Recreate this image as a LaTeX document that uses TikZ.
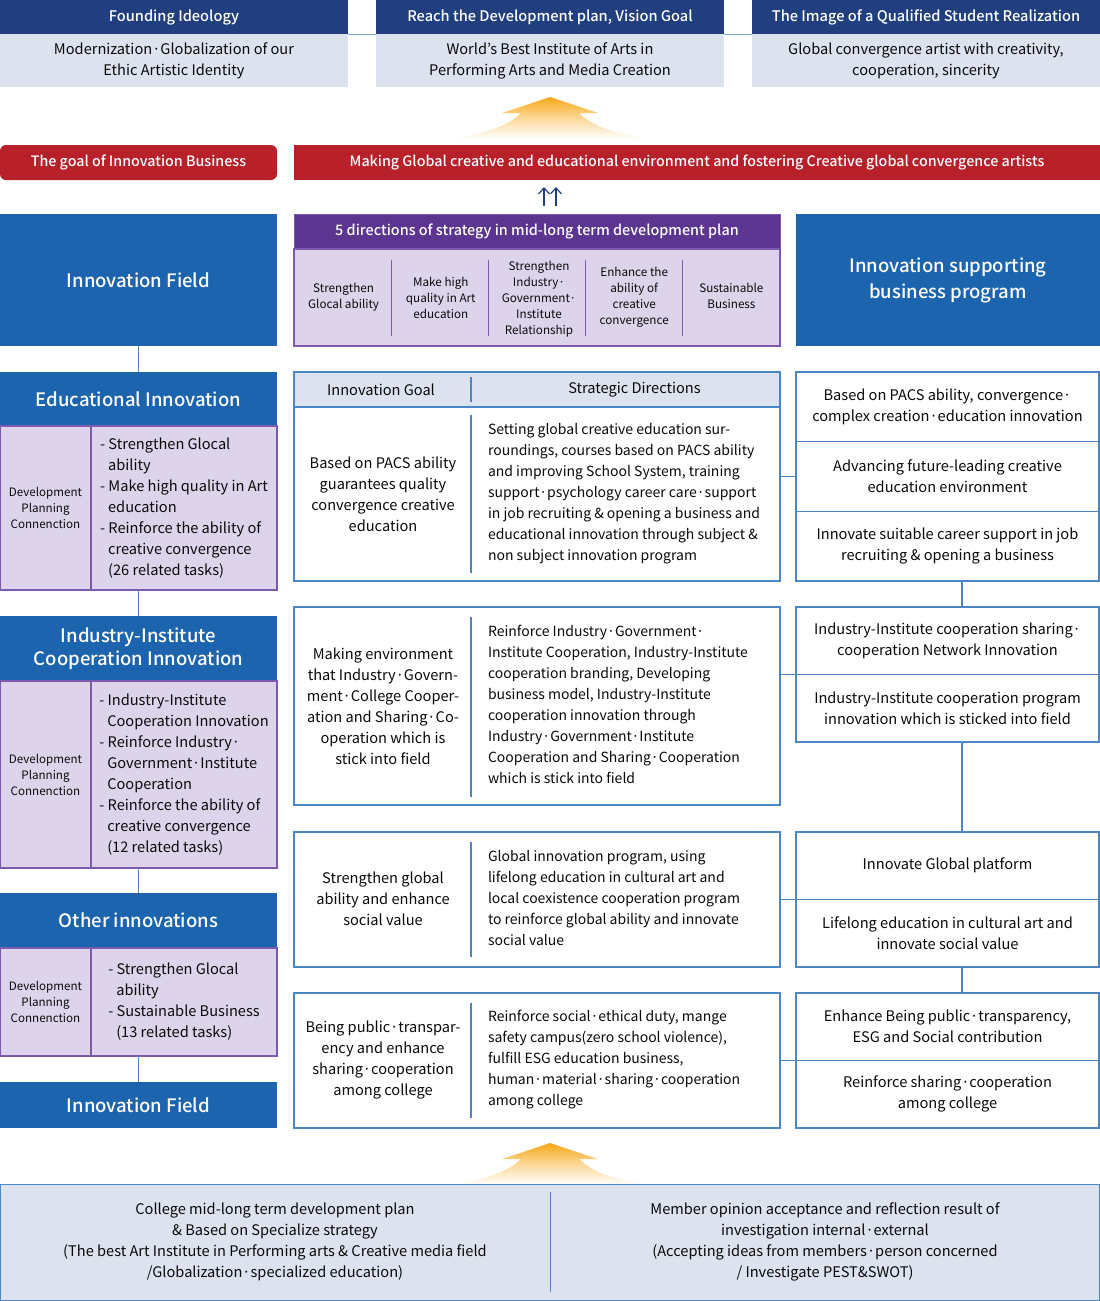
\documentclass[tikz,border=0pt]{standalone}
\usepackage{fontspec}
\setmainfont{Noto Sans CJK KR}[BoldFont={Noto Sans CJK KR Medium}]
\usetikzlibrary{arrows.meta,calc}
\definecolor{navyc}{HTML}{213F7F}
\definecolor{lightc}{HTML}{DCE2EE}
\definecolor{redc}{HTML}{B8202A}
\definecolor{bluec}{HTML}{1C64AE}
\definecolor{linec}{HTML}{4A86C8}
\definecolor{purc}{HTML}{5B3590}
\definecolor{lavc}{HTML}{DDD4EC}
\definecolor{lavline}{HTML}{7E5AAE}
\definecolor{txtc}{HTML}{0A0A0A}
\definecolor{arrc}{HTML}{F7A817}
\newcommand{\fs}[2]{\fontsize{#1}{#2}\selectfont}
\begin{document}
\begin{tikzpicture}[x=1pt,y=-1pt,
 every node/.style={inner sep=0pt, outer sep=0pt, anchor=north west, text=txtc},
 navyh/.style={fill=navyc, text=white, font=\fs{14.6}{21}\bfseries},
 lightb/.style={fill=lightc, font=\fs{14.6}{21}, align=center},
 redbar/.style={fill=redc, text=white, font=\fs{14.3}{21}\bfseries},
 bluebox/.style={fill=bluec, text=white, font=\fs{18.5}{26}\bfseries, align=center},
 purh/.style={fill=purc, draw=lavline, line width=1pt, text=white, font=\fs{14.4}{20}\bfseries},
 lavcell/.style={fill=lavc, draw=lavline, line width=1.2pt, font=\fs{11.6}{16}, align=center},
 lavlist/.style={fill=lavc, draw=lavline, line width=1.2pt, font=\fs{14.6}{21}, align=left},
 tcell/.style={fill=white, draw=linec, line width=1.3pt},
 thead/.style={fill=lightc, draw=linec, line width=1.3pt},
 gcell/.style={fill=white, draw=linec, line width=1.3pt, font=\fs{14.6}{21}, align=center, minimum width=303pt},
 txt/.style={font=\fs{14.6}{21}, align=center, anchor=center},
 ltxt/.style={font=\fs{14}{21}, align=left, anchor=west},
 smalltxt/.style={font=\fs{11.7}{16}, align=center, anchor=center},
 conn/.style={draw=linec, line width=1.3pt},
 divl/.style={draw=linec, line width=1.3pt},
 pdiv/.style={draw=lavline, line width=1.2pt},
]
\useasboundingbox (0,0) rectangle (1100,1301);
\fill[white] (0,0) rectangle (1100,1301);

% ---------- top row ----------
\node[navyh, minimum width=348pt, minimum height=34pt] (h1) at (0,0) {Founding Ideology};
\node[navyh, minimum width=348pt, minimum height=34pt] (h2) at (376,0) {Reach the Development plan, Vision Goal};
\node[navyh, minimum width=348pt, minimum height=34pt] (h3) at (752,0) {The Image of a Qualified Student Realization};
\node[lightb, minimum width=348pt, minimum height=53pt] (b1) at (0,34) {Modernization·Globalization of our\\Ethic Artistic Identity};
\node[lightb, minimum width=348pt, minimum height=53pt] (b2) at (376,34) {World’s Best Institute of Arts in\\Performing Arts and Media Creation};
\node[lightb, minimum width=348pt, minimum height=53pt] (b3) at (752,34) {Global convergence artist with creativity,\\cooperation, sincerity};
\draw[linec!70, line width=1pt] (h1.south east) -- (h2.south west);
\draw[linec!70, line width=1pt] (h2.south east) -- (h3.south west);

% top gradient arrow
\shade[top color=arrc, bottom color=white, middle color=arrc!45]
 (550,97) -- (598,113) -- (579,113) .. controls (592,126) and (615,134) .. (650,139)
 -- (450,139) .. controls (485,134) and (508,126) .. (521,113) -- (502,113) -- cycle;

% red bars
\node[redbar, rounded corners=6pt, minimum width=277pt, minimum height=35pt] (redL) at (0,145) {The goal of Innovation Business};
\node[redbar, minimum width=806pt, minimum height=35pt] (redR) at (294,145) {Making Global creative and educational environment and fostering Creative global convergence artists};

% double arrow
\coordinate (da1) at (544,206); \coordinate (da1t) at (544,187);
\coordinate (da2) at (556,206); \coordinate (da2t) at (556,187);
\draw[navyc, line width=1.2pt, -{Straight Barb[length=6pt,width=11pt]}] (da1) -- (da1t);
\draw[navyc, line width=1.2pt, -{Straight Barb[length=6pt,width=11pt]}] (da2) -- (da2t);

% ---------- third row ----------
\node[bluebox, minimum width=277pt, minimum height=132pt] (if1) at (0,214) {Innovation Field};
\node[purh, minimum width=486pt, minimum height=35pt] (ph) at (294,214) {5 directions of strategy in mid-long term development plan};
\node[fill=lavc, draw=lavline, line width=1.2pt, minimum width=486pt, minimum height=97pt] (pb) at (294,249) {};
\node[smalltxt] (p1) at (343.6,297.5) {Strengthen\\Glocal ability};
\node[smalltxt] (p2) at (440.8,297.5) {Make high\\quality in Art\\education};
\node[smalltxt] (p3) at (539,299) {Strengthen\\Industry·\\Government·\\Institute\\Relationship};
\node[smalltxt] (p4) at (634.2,297.5) {Enhance the\\ability of\\creative\\convergence};
\node[smalltxt] (p5) at (731.4,296) {Sustainable\\Business};
\foreach \xx in {391.2,488.4,585.6,682.8}{\draw[pdiv] (\xx,260) -- (\xx,336);}
\node[bluebox, minimum width=304pt, minimum height=132pt] (isb) at (796,214) {Innovation supporting\\business program};

% ---------- left column ----------
\node[bluebox, minimum width=277pt, minimum height=54pt] (edh) at (0,372) {Educational Innovation};
\node[lavcell, minimum width=91pt, minimum height=164pt] (edl) at (0,426) {Development\\Planning\\Connenction};
\node[lavlist, minimum width=186pt, minimum height=164pt] (edr) at (91,426) {- Strengthen Glocal\\\hspace*{8pt}ability\\- Make high quality in Art\\\hspace*{8pt}education\\- Reinforce the ability of\\\hspace*{8pt}creative convergence\\\hspace*{8pt}(26 related tasks)};

\node[bluebox, font=\fs{18.5}{23}\bfseries, minimum width=277pt, minimum height=65pt] (indh) at (0,616) {Industry-Institute\\Cooperation Innovation};
\node[lavcell, minimum width=91pt, minimum height=187pt] (indl) at (0,681) {Development\\Planning\\Connenction};
\node[lavlist, minimum width=186pt, minimum height=187pt] (indr) at (91,681) {- Industry-Institute\\\hspace*{8pt}Cooperation Innovation\\- Reinforce Industry·\\\hspace*{8pt}Government·Institute\\\hspace*{8pt}Cooperation\\- Reinforce the ability of\\\hspace*{8pt}creative convergence\\\hspace*{8pt}(12 related tasks)};

\node[bluebox, minimum width=277pt, minimum height=55pt] (oth) at (0,893) {Other innovations};
\node[lavcell, minimum width=91pt, minimum height=108pt] (othl) at (0,948) {Development\\Planning\\Connenction};
\node[lavlist, minimum width=186pt, minimum height=108pt] (othr) at (91,948) {- Strengthen Glocal\\\hspace*{8pt}ability\\- Sustainable Business\\\hspace*{8pt}(13 related tasks)};

\node[bluebox, minimum width=277pt, minimum height=46pt] (if2) at (0,1082) {Innovation Field};

\draw[conn] (if1.south) -- (edh.north);
\draw[conn] (edh.south |- edr.south) -- (indh.north);
\draw[conn] (indh.south |- indr.south) -- (oth.north);
\draw[conn] (oth.south |- othr.south) -- (if2.north);

% ---------- middle tables ----------
\node[tcell, minimum width=486pt, minimum height=209pt] (t1) at (294,372) {};
\node[thead, minimum width=486pt, minimum height=35pt] (t1h) at (294,372) {};
\node[txt] (t1hl) at (381,389.5) {Innovation Goal};
\node[txt] (t1hr) at (634.5,389.5) {Strategic Directions};
\draw[divl] (471,377) -- (471,402);
\draw[divl] (471,415) -- (471,573);
\node[txt] (t1l) at (383,494.5) {Based on PACS ability\\guarantees quality\\convergence creative\\education};
\node[ltxt] (t1r) at (488,494) {Setting global creative education sur-\\roundings, courses based on PACS ability\\and improving School System, training\\support·psychology career care·support\\in job recruiting \& opening a business and\\educational innovation through subject \&\\non subject innovation program};

\node[tcell, minimum width=486pt, minimum height=198pt] (t2) at (294,607) {};
\draw[divl] (471,617) -- (471,797);
\node[txt] (t2l) at (383,706.5) {Making environment\\that Industry·Govern-\\ment·College Cooper-\\ation and Sharing·Co-\\operation which is\\stick into field};
\node[ltxt] (t2r) at (488,704.5) {Reinforce Industry·Government·\\Institute Cooperation, Industry-Institute\\cooperation branding, Developing\\business model, Industry-Institute\\cooperation innovation through\\Industry·Government·Institute\\Cooperation and Sharing·Cooperation\\which is stick into field};

\node[tcell, minimum width=486pt, minimum height=135pt] (t3) at (294,832) {};
\draw[divl] (471,842) -- (471,957);
\node[txt] (t3l) at (383,898.5) {Strengthen global\\ability and enhance\\social value};
\node[ltxt] (t3r) at (488,898.5) {Global innovation program, using\\lifelong education in cultural art and\\local coexistence cooperation program\\to reinforce global ability and innovate\\social value};

\node[tcell, minimum width=486pt, minimum height=135pt] (t4) at (294,993) {};
\draw[divl] (471,1003) -- (471,1118);
\node[txt] (t4l) at (383,1060) {Being public·transpar-\\ency and enhance\\sharing·cooperation\\among college};
\node[ltxt] (t4r) at (488,1059.5) {Reinforce social·ethical duty, mange\\safety campus(zero school violence),\\fulfill ESG education business,\\human·material·sharing·cooperation\\among college};

% ---------- right groups ----------
\node[gcell, minimum height=69.67pt] (g1a) at (796,372) {Based on PACS ability, convergence·\\complex creation·education innovation};
\node[gcell, minimum height=69.67pt] (g1b) at (796,441.67) {Advancing future-leading creative\\education environment};
\node[gcell, minimum height=69.67pt] (g1c) at (796,511.33) {Innovate suitable career support in job\\recruiting \& opening a business};

\node[gcell, minimum height=67.5pt] (g2a) at (796,607) {Industry-Institute cooperation sharing·\\cooperation Network Innovation};
\node[gcell, minimum height=67.5pt] (g2b) at (796,674.5) {Industry-Institute cooperation program\\innovation which is sticked into field};

\node[gcell, minimum height=67.5pt] (g3a) at (796,832) {Innovate Global platform};
\node[gcell, minimum height=67.5pt] (g3b) at (796,899.5) {Lifelong education in cultural art and\\innovate social value};

\node[gcell, minimum height=67.5pt] (g4a) at (796,993) {Enhance Being public·transparency,\\ESG and Social contribution};
\node[gcell, minimum height=67.5pt] (g4b) at (796,1060.5) {Reinforce sharing·cooperation\\among college};

\coordinate (rc) at (962,0);
\draw[conn] (g1c.south -| rc) -- (g2a.north -| rc);
\draw[conn] (g2b.south -| rc) -- (g3a.north -| rc);
\draw[conn] (g3b.south -| rc) -- (g4a.north -| rc);

\draw[conn] (t1.east |- g1b.west) -- (g1b.west);
\draw[conn] (t2.east |- g2a.south west) -- (g2a.south west);
\draw[conn] (t3.east |- g3a.south west) -- (g3a.south west);
\draw[conn] (t4.east |- g4a.south west) -- (g4a.south west);

% ---------- bottom ----------
\shade[top color=arrc, bottom color=white, middle color=arrc!45]
 (550,1143) -- (598,1159) -- (579,1159) .. controls (592,1172) and (615,1180) .. (650,1185)
 -- (450,1185) .. controls (485,1180) and (508,1172) .. (521,1159) -- (502,1159) -- cycle;
\node[fill=lightc, draw=linec, line width=1.3pt, minimum width=1099pt, minimum height=116pt] (bot) at (0.5,1184.5) {};
\draw[divl, line width=1pt] (550,1192) -- (550,1292);
\node[txt] (botl) at (275,1242) {College mid-long term development plan\\\& Based on Specialize strategy\\(The best Art Institute in Performing arts \& Creative media field\\/Globalization·specialized education)};
\node[txt] (botr) at (825,1242) {Member opinion acceptance and reflection result of\\investigation internal·external\\(Accepting ideas from members·person concerned\\/ Investigate PEST\&SWOT)};
\end{tikzpicture}
\end{document}
